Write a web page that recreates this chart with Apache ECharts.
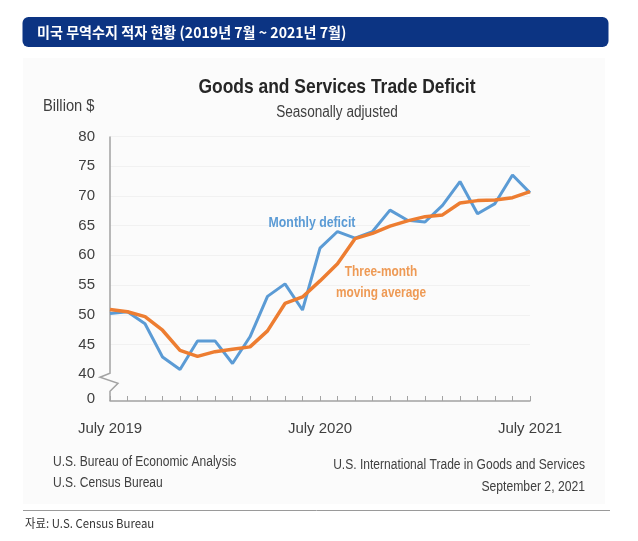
<!DOCTYPE html>
<html>
<head>
<meta charset="utf-8">
<title>미국 무역수지 적자 현황</title>
<script src="https://cdn.jsdelivr.net/npm/echarts@6/dist/echarts.min.js"></script>
<style>
html, body { margin: 0; padding: 0; background: #fff; }
#trade_deficit { width: 638px; height: 541px; }
</style>
</head>
<body>
<div id="trade_deficit"></div>
<script>
/**
 * 미국 상품·서비스 무역수지 적자 (계절조정, 십억 달러)
 */
var months = [
	'2019-07', '2019-08', '2019-09', '2019-10', '2019-11', '2019-12',
	'2020-01', '2020-02', '2020-03', '2020-04', '2020-05', '2020-06',
	'2020-07', '2020-08', '2020-09', '2020-10', '2020-11', '2020-12',
	'2021-01', '2021-02', '2021-03', '2021-04', '2021-05', '2021-06',
	'2021-07'
];
var monthLabels = { '2019-07': 'July 2019', '2020-07': 'July 2020', '2021-07': 'July 2021' };

// 월별 적자
var monthlyDeficit = [
	50.2, 50.5, 48.5, 42.9, 40.8, 45.6, 45.6, 41.8, 46.3, 53.1, 55.2, 50.8,
	61.2, 64.0, 62.9, 64.0, 67.6, 65.9, 65.6, 68.4, 72.4, 67.0, 68.7, 73.5,
	70.5
];
// 3개월 이동평균
var threeMonthAverage = [
	50.9, 50.5, 49.7, 47.4, 44.0, 43.0, 43.8, 44.2, 44.6, 47.3, 51.9, 53.0,
	55.7, 58.6, 62.8, 63.7, 64.9, 65.8, 66.5, 66.8, 68.8, 69.2, 69.3, 69.7,
	70.7
];

// y축 눈금 (40 아래는 생략 표시 후 0)
var yTicks = [40, 45, 50, 55, 60, 65, 70, 75, 80];
var yBreakLabel = '0';

var trade_chart = {
	font : "'Liberation Sans', Arial, sans-serif",
	krFont : "'Noto Sans CJK KR', sans-serif",
	axisColor : '#a3a3a3',
	yMin : 35.5,
	yBreakAt : 35.8,

	init : function(){
		var myChart = echarts.init(document.getElementById('trade_deficit'), null, { renderer: 'canvas' });
		myChart.setOption(trade_chart.get_options());
		trade_chart.draw_axis_break(myChart);
	},

	get_options : function(){
		var f = trade_chart.font;
		return {
			animation : false,
			backgroundColor : '#fff',
			grid : { left: 110, right: 108, top: 136.4, bottom: 140, containLabel: false },
			xAxis : {
				type : 'category',
				boundaryGap : false,
				data : months,
				axisLine : { show: true, onZero: false, lineStyle: { color: trade_chart.axisColor, width: 1.5 } },
				axisTick : { show: true, inside: true, length: 5, interval: 0, lineStyle: { color: trade_chart.axisColor, width: 1 } },
				axisLabel : {
					interval : 0,
					margin : 20,
					color : '#404040',
					fontFamily : f,
					fontSize : 15,
					formatter : function(v){ return monthLabels[v] || ''; }
				},
				splitLine : { show: false }
			},
			yAxis : {
				type : 'value',
				min : trade_chart.yMin,
				max : 80,
				axisLine : { show: false },
				axisTick : { show: false, customValues: yTicks.slice(1) },
				axisLabel : {
					customValues : [trade_chart.yBreakAt].concat(yTicks),
					margin : 15,
					color : '#404040',
					fontFamily : f,
					fontSize : 15,
					formatter : function(v){ return v < yTicks[0] ? yBreakLabel : String(v); }
				},
				splitLine : { show: true, lineStyle: { color: '#f1f1f1', width: 1 } }
			},
			series : [
				{
					name : 'Monthly deficit',
					type : 'line',
					data : monthlyDeficit,
					showSymbol : false,
					lineStyle : { color: '#5b9bd5', width: 3 },
					itemStyle : { color: '#5b9bd5' },
					z : 2
				},
				{
					name : 'Three-month moving average',
					type : 'line',
					data : threeMonthAverage,
					showSymbol : false,
					lineStyle : { color: '#ed7d31', width: 3.5 },
					itemStyle : { color: '#ed7d31' },
					z : 3
				}
			],
			graphic : trade_chart.get_graphics()
		};
	},

	/**
	 * 좁은 글꼴 흉내: 가로 비율만 줄인 텍스트
	 */
	text : function(x, y, str, font, color, align, sx){
		return {
			type : 'text',
			x : x,
			y : y,
			scaleX : sx || 1,
			style : { text: str, fill: color, font: font, align: align || 'left', verticalAlign: 'middle' }
		};
	},

	/**
	 * 제목 바, 차트 제목, 주석, 출처
	 */
	get_graphics : function(){
		var f = trade_chart.font, t = trade_chart.text;
		return [
			{ type: 'rect', z: -10, shape: { x: 23, y: 58, width: 582, height: 446 }, style: { fill: '#fbfbfb' } },
			{ type: 'rect', shape: { x: 22.5, y: 17, width: 586, height: 30, r: 6 }, style: { fill: '#0c3483' } },
			t(37, 32, '미국 무역수지 적자 현황 (2019년 7월 ~ 2021년 7월)', 'bold 15px ' + trade_chart.krFont, '#fff', 'left', 0.94),
			t(337, 87, 'Goods and Services Trade Deficit', 'bold 21px ' + f, '#262626', 'center', 0.83),
			t(337, 113, 'Seasonally adjusted', '16px ' + f, '#404040', 'center', 0.85),
			t(43, 107, 'Billion $', '16px ' + f, '#404040', 'left', 0.92),
			t(312, 223, 'Monthly deficit', 'bold 15px ' + f, '#5b9bd5', 'center', 0.82),
			t(381, 272, 'Three-month', 'bold 15px ' + f, '#ee9a55', 'center', 0.79),
			t(381, 293, 'moving average', 'bold 15px ' + f, '#ee9a55', 'center', 0.79),
			t(53, 462, 'U.S. Bureau of Economic Analysis', '14px ' + f, '#404040', 'left', 0.86),
			t(53, 483, 'U.S. Census Bureau', '14px ' + f, '#404040', 'left', 0.86),
			t(585, 465, 'U.S. International Trade in Goods and Services', '14px ' + f, '#404040', 'right', 0.86),
			t(585, 487, 'September 2, 2021', '14px ' + f, '#404040', 'right', 0.87),
			{ type: 'line', shape: { x1: 23, y1: 510.5, x2: 610, y2: 510.5 }, style: { stroke: '#9a9a9a', lineWidth: 1 } },
			t(25, 523, '자료: U.S. Census Bureau', '12px ' + trade_chart.krFont, '#333', 'left', 0.95)
		];
	},

	/**
	 * y축 선과 생략(물결) 표시
	 */
	draw_axis_break : function(chart){
		var x0 = chart.convertToPixel({ xAxisIndex: 0 }, months[0]);
		var yTop = chart.convertToPixel({ yAxisIndex: 0 }, yTicks[yTicks.length - 1]);
		var y40 = chart.convertToPixel({ yAxisIndex: 0 }, yTicks[0]);
		var yBottom = chart.convertToPixel({ yAxisIndex: 0 }, trade_chart.yMin);
		var g = chart.getOption().graphic[0].elements.slice();
		g.push({
			type : 'polyline',
			shape : { points: [[x0, yTop], [x0, y40 - 1], [x0 - 10, y40 + 3], [x0 + 8, y40 + 9], [x0, y40 + 17], [x0, yBottom]] },
			style : { stroke: trade_chart.axisColor, lineWidth: 1.5, fill: null }
		});
		chart.setOption({ graphic: g }, { replaceMerge: ['graphic'] });
	}
};

trade_chart.init();
</script>
</body>
</html>
